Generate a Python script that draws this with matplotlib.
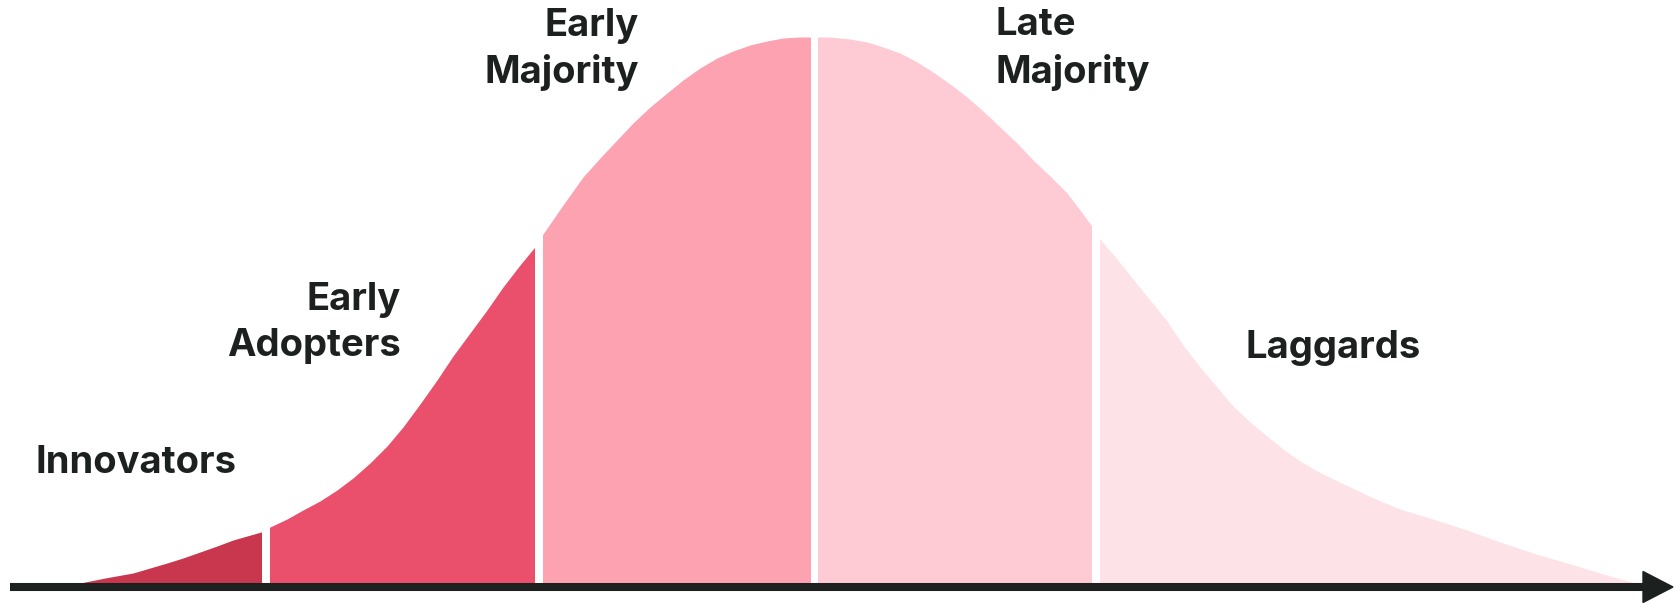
import numpy as np
import matplotlib.pyplot as plt
from matplotlib.patches import Rectangle, Polygon

# - - - - curve (x position, height above axis) - - -
curve_x = [80, 105, 133, 150, 167, 183, 200, 217, 233, 247, 261, 270, 287,
           303, 320, 337, 353, 370, 387, 403, 420, 437, 453, 470, 487, 503,
           520, 534, 543, 563, 583, 600, 617, 633, 650, 667, 683, 700, 717,
           733, 750, 767, 783, 800, 814, 830, 850, 867, 883, 900, 917, 933,
           950, 967, 983, 1000, 1017, 1033, 1050, 1067, 1080, 1091, 1100,
           1117, 1133, 1150, 1167, 1183, 1200, 1217, 1233, 1250, 1267, 1283,
           1300, 1317, 1333, 1350, 1367, 1383, 1400, 1433, 1467, 1500, 1533,
           1567, 1600, 1635]
curve_h = [0, 5, 10, 15, 20, 25, 31, 37, 43, 47, 51, 56, 64,
           73, 82, 93, 105, 120, 137, 156, 179, 203, 227, 250, 273, 296,
           318, 335, 349, 378, 406, 425, 443, 460, 476, 490, 503, 515, 525,
           532, 538, 542, 545, 546, 546, 546, 544, 541, 536, 530, 521, 511,
           499, 486, 472, 456, 440, 423, 407, 390, 373, 358, 344,
           324, 304, 283, 262, 238, 216, 196, 177, 161, 147, 134,
           122, 112, 104, 96, 88, 81, 74, 64, 53, 41, 30,
           20, 10, 0]

segments = ['Innovators', 'Early Adopters', 'Early Majority',
            'Late Majority', 'Laggards']
seg_start = [80, 270, 543, 818, 1100]
seg_end = [261, 534, 810, 1091, 1635]
seg_color = ['#C9374F', '#EA4F6B', '#FDA2B1', '#FECAD3', '#FDE3E7']

text_color = '#1C2120'
fontsize = 27.5


def main():
    fig = plt.figure(figsize=(16.76, 6.03), dpi=100)
    ax = fig.add_axes([0, 0, 1, 1])
    ax.set_xlim(0, 1676)
    ax.set_ylim(-20, 583)
    ax.axis('off')

    x = np.array(curve_x)
    h = np.array(curve_h)
    for s, e, c in zip(seg_start, seg_end, seg_color):
        poly = ax.fill_between(x, 0, h, color=c, linewidth=0)
        clip = Rectangle((s, -1), e - s, 600, transform=ax.transData)
        poly.set_clip_path(clip)

    # axis arrow
    ax.plot([10, 1645], [-4, -4], color=text_color, linewidth=5.8,
            solid_capstyle='butt')
    head = Polygon([[1643, -19.5], [1673, -4], [1643, 11.5]], closed=True,
                   color=text_color)
    ax.add_patch(head)

    font = dict(fontsize=fontsize, fontweight='bold', color=text_color,
                family=['Inter', 'DejaVu Sans'], va='baseline')
    ax.text(35, 583 - 473, 'Innovators', ha='left', **font)
    ax.text(401, 583 - 310, 'Early', ha='right', **font)
    ax.text(401, 583 - 356, 'Adopters', ha='right', **font)
    ax.text(639, 583 - 36, 'Early', ha='right', **font)
    ax.text(639, 583 - 83, 'Majority', ha='right', **font)
    ax.text(995, 583 - 35, 'Late', ha='left', **font)
    ax.text(995, 583 - 83, 'Majority', ha='left', **font)
    ax.text(1245, 583 - 358, 'Laggards', ha='left', **font)

    fig.savefig('out.png', dpi=100, facecolor='white')


if __name__ == '__main__':
    main()
